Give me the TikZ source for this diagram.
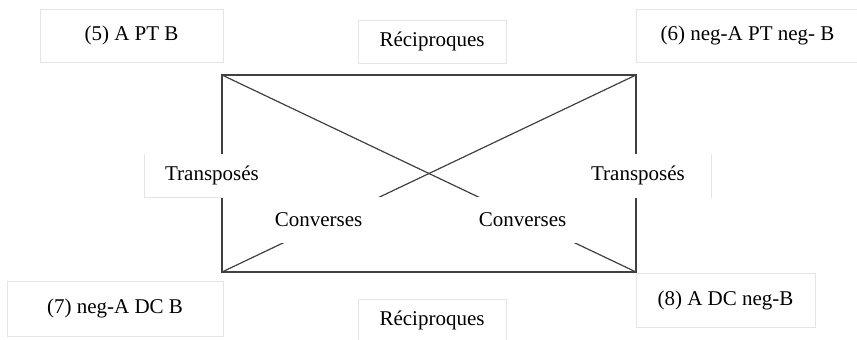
\documentclass[tikz,border=0pt]{standalone}
\usepackage{fontspec}
\setmainfont{Liberation Serif}
\begin{document}
\begin{tikzpicture}[x=1pt,y=-1pt,
    label box/.style={draw=boxgray, line width=1pt, fill=white, inner sep=0pt,
      font=\fontsize{21}{24}\selectfont},
    word box/.style={label box, draw=white}]
            \definecolor{boxgray}{gray}{0.9};
            \definecolor{linegray}{gray}{0.25};
            \useasboundingbox (0,0) rectangle (857,340);

            \coordinate (tl) at (222,75);
            \coordinate (tr) at (636,75);
            \coordinate (bl) at (222,272);
            \coordinate (br) at (636,272);

            \draw [linegray, line width=1.6pt] (tl) rectangle (br);
            \draw [linegray, line width=1.2pt] (tl) -- (br);
            \draw [linegray, line width=1.2pt] (bl) -- (tr);

            \node[label box, minimum width=183, minimum height=53] (apb) at (131.5,35.5) {(5) A PT B};
            \node[label box, minimum width=223, minimum height=53] (napnb) at (747.5,35.5) {(6) neg-A PT neg- B};
            \node[label box, minimum width=216, minimum height=55] (nadb) at (115,308.5) {(7) neg-A DC B};
            \node[label box, minimum width=179, minimum height=54] (adnb) at (725.5,300) {(8) A DC neg-B};

            \node[label box, minimum width=148, minimum height=43] (rectop) at (432,41.5) {Réciproques};
            \node[label box, minimum width=148, minimum height=43] (recbot) at (432,320.5) {Réciproques};

            % the side boxes only show part of their frame
            \node[word box, minimum width=134, minimum height=43] (transl) at (212,175.5) {Transposés};
            \node[word box, minimum width=146, minimum height=43] (transr) at (638,175.5) {Transposés};
            \draw [boxgray, line width=1pt] (transl.north west) -- (transl.south west) -- (transl.south west -| tl);
            \draw [boxgray, line width=1pt] (transr.north east) -- (transr.south east);

            \node[word box, minimum width=127, minimum height=45] (convl) at (318.5,219.5) {Converses};
            \node[word box, minimum width=105, minimum height=45] (convr) at (522.5,219.5) {Converses};

        \end{tikzpicture}
\end{document}
